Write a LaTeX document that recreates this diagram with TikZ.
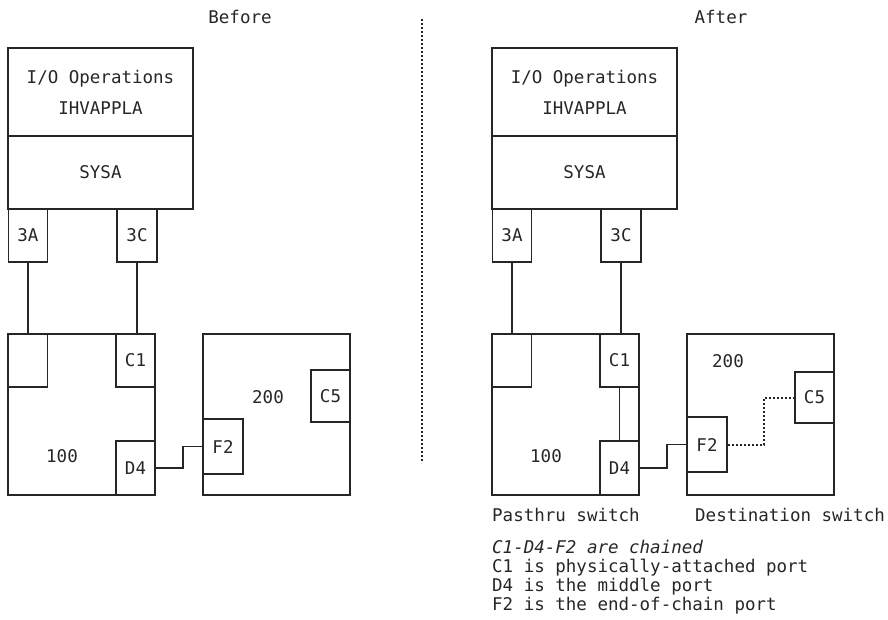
\documentclass[tikz,border=0pt]{standalone}
\usepackage{fontspec}
\setmainfont{DejaVu Sans Mono}
\usetikzlibrary{calc}
\begin{document}
\begin{tikzpicture}[x=1pt,y=-1pt,
  every node/.style={font=\fontsize{17.5pt}{21pt}\selectfont, text=black!85},
  box/.style={draw=black!85, line width=1.5pt, inner sep=0pt, align=center},
  lbl/.style={inner sep=0pt},
  txt/.style={inner sep=0pt, anchor=base west},
  wire/.style={draw=black!85, line width=1.5pt},
  dotwire/.style={draw=black!85, line width=2pt, dash pattern=on 2pt off 2pt}
]
\useasboundingbox (0,0) rectangle (888,619);

\node[lbl] (before) at (240,17) {Before};
\node[lbl] (after) at (721,17) {After};

% divider
\coordinate (dtop) at (422,19);
\coordinate (dbot) at (422,463);
\draw[dotwire] (dtop) -- (dbot);

% ---------- Before ----------
\node[box, minimum width=185pt, minimum height=88pt] (io) at (100.5,92) {I/O Operations\\[10pt]IHVAPPLA};
\node[box, minimum width=185pt, minimum height=73pt] (sysa) at (100.5,172.5) {SYSA};
\node[box, minimum width=39pt, minimum height=53pt] (p3a) at (28,235.5) {3A};
\node[box, minimum width=40pt, minimum height=53pt] (p3c) at (137,235.5) {3C};
\node[box, minimum width=147pt, minimum height=161pt] (sw100) at (81.5,414.5) {};
\node[box, minimum width=39pt, minimum height=53pt] (pA) at (28,360.5) {};
\node[box, minimum width=39pt, minimum height=53pt] (c1) at (135.5,360.5) {C1};
\node[box, minimum width=39pt, minimum height=54pt] (d4) at (135.5,468) {D4};
\node[lbl] (l100) at (62,456) {100};
\node[box, minimum width=147pt, minimum height=161pt] (sw200) at (276.5,414.5) {};
\node[box, minimum width=39pt, minimum height=52pt] (c5) at (330.5,396) {C5};
\node[box, minimum width=40pt, minimum height=55pt] (f2) at (223,446.5) {F2};
\node[lbl] (l200) at (268,397) {200};

\draw[wire] (p3a.south) -- (pA.north);
\draw[wire] (p3c.south) -- (p3c.south |- c1.north);
\draw[wire] (d4.east) -- ++(27,0) |- (f2.west);

% ---------- After ----------
\begin{scope}[xshift=484pt]
\node[box, minimum width=185pt, minimum height=88pt] (rio) at (100.5,92) {I/O Operations\\[10pt]IHVAPPLA};
\node[box, minimum width=185pt, minimum height=73pt] (rsysa) at (100.5,172.5) {SYSA};
\node[box, minimum width=39pt, minimum height=53pt] (rp3a) at (28,235.5) {3A};
\node[box, minimum width=40pt, minimum height=53pt] (rp3c) at (137,235.5) {3C};
\node[box, minimum width=147pt, minimum height=161pt] (rsw100) at (81.5,414.5) {};
\node[box, minimum width=39pt, minimum height=53pt] (rpA) at (28,360.5) {};
\node[box, minimum width=39pt, minimum height=53pt] (rc1) at (135.5,360.5) {C1};
\node[box, minimum width=39pt, minimum height=54pt] (rd4) at (135.5,468) {D4};
\node[lbl] (rl100) at (62,456) {100};
\node[box, minimum width=147pt, minimum height=161pt] (rsw200) at (276.5,414.5) {};
\node[box, minimum width=39pt, minimum height=51pt] (rc5) at (330.5,397.5) {C5};
\node[box, minimum width=40pt, minimum height=55pt] (rf2) at (223,444.5) {F2};
\node[lbl] (rl200) at (244,361) {200};

\draw[wire] (rp3a.south) -- (rpA.north);
\draw[wire] (rp3c.south) -- (rp3c.south |- rc1.north);
\draw[wire] (rc1.south) -- (rd4.north);
\draw[wire] (rd4.east) -- ++(27,0) |- (rf2.west);
\draw[dotwire] (rf2.east) -- ++(36,0) |- (rc5.west);

\node[txt] (pass) at (8,521.5) {Pasthru switch};
\node[txt] (dest) at (211,521.5) {Destination switch};
\node[txt] (n1) at (8,553.5) {\itshape C1-D4-F2 are chained};
\node[txt] (n2) at (8,572.5) {C1 is physically-attached port};
\node[txt] (n3) at (8,591.5) {D4 is the middle port};
\node[txt] (n4) at (8,610.5) {F2 is the end-of-chain port};
\end{scope}
\end{tikzpicture}
\end{document}
